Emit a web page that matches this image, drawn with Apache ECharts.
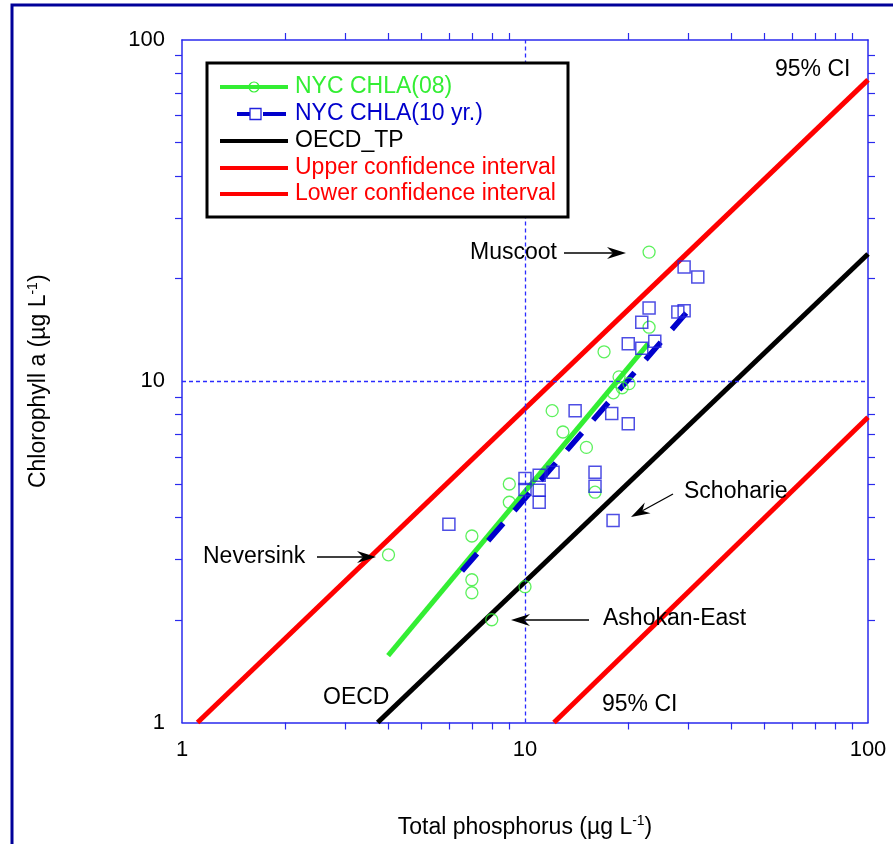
<!DOCTYPE html>
<html>
<head>
<meta charset="utf-8">
<script src="https://cdn.jsdelivr.net/npm/echarts@6/dist/echarts.min.js"></script>
<style>
html,body{margin:0;padding:0;background:#fff;}
#chart{width:893px;height:844px;}
</style>
</head>
<body>
<div id="chart"></div>
<script>
// ---------- data ----------
const xTickLabels = [1, 10, 100];
const yTickLabels = [1, 10, 100];
const minorTicks = [2, 3, 4, 5, 6, 7, 8, 9, 20, 30, 40, 50, 60, 70, 80, 90];
const gridTP = [10];
const gridChl = [10];

// NYC CHLA(08) points (TP, Chl a)
const chl08TP  = [23, 23, 17, 18.8, 20.1, 19.2, 18.1, 12, 12.9, 15.1, 9, 9, 16, 7, 4, 7, 7, 10, 8];
const chl08Chl = [23.9, 14.4, 12.2, 10.3, 9.84, 9.57, 9.25, 8.2, 7.1, 6.4, 5.0, 4.42, 4.73, 3.52, 3.1, 2.62, 2.4, 2.5, 2.0];

// NYC CHLA(10 yr.) points
const chl10TP  = [29.1, 31.9, 23, 21.9, 27.9, 29.1, 23.9, 20, 21.9, 14, 17.9, 20, 10, 10, 11, 11, 11, 12.07, 16, 16, 18.06, 6];
const chl10Chl = [21.6, 20.2, 16.4, 14.9, 15.96, 16.1, 13.1, 12.87, 12.5, 8.2, 8.04, 7.51, 5.19, 4.82, 5.3, 4.79, 4.42, 5.41, 5.41, 4.92, 3.91, 3.81];

// regression / reference lines (end points)
const fit08TP = [3.99, 22.84], fit08Chl = [1.57, 12.87];
const fit10TP = [6.55, 29.5],  fit10Chl = [2.78, 15.85];
const oecdTP  = [3.72, 100],   oecdChl  = [1, 23.6];
const upperTP = [1.11, 100],   upperChl = [1, 76.4];
const lowerTP = [12.15, 100],  lowerChl = [1, 7.84];

// ---------- helpers ----------
const zip = (a, b) => a.map((v, i) => [v, b[i]]);
const FONT = '"Liberation Sans", Arial, sans-serif';
const GREEN = '#33ee33', BLUE = '#0000cc', RED = '#ff0000';
const AXIS_BLUE = '#2a2aee';

function arrow(x1, y1, x2, y2) {
  const a = Math.atan2(y2 - y1, x2 - x1), c = Math.cos(a), s = Math.sin(a);
  const L = 19, W = 6, N = 6;
  const bx = x2 - L * c, by = y2 - L * s;
  const nx = x2 - (L - N) * c, ny = y2 - (L - N) * s;
  return [
    {type: 'line', z: 50, shape: {x1, y1, x2: nx, y2: ny}, style: {stroke: '#000', lineWidth: 1.3}},
    {type: 'polygon', z: 50, shape: {points: [[x2, y2], [bx - W * s, by + W * c], [nx, ny], [bx + W * s, by - W * c]]},
      style: {fill: '#000'}}
  ];
}
function txt(text, x, y, color) {
  return {type: 'text', z: 60, style: {text, x, y, fill: color || '#000', fontSize: 23, fontFamily: FONT,
    align: 'left', verticalAlign: 'middle'}};
}

function logAxis(pos, showLabel, isX) {
  return {
    type: 'log', logBase: 10, min: 1, max: 100, position: pos,
    axisLine: {show: true, lineStyle: {color: AXIS_BLUE, width: 1.5}},
    axisTick: {show: true, inside: false, length: 7, customValues: minorTicks,
      lineStyle: {color: AXIS_BLUE, width: 1.2}},
    axisLabel: showLabel ? {show: true, color: '#000', fontSize: 22, fontFamily: FONT,
      margin: isX ? 16 : 17, customValues: isX ? xTickLabels : yTickLabels,
      formatter: v => String(Math.round(v))} : {show: false},
    splitLine: {show: false},
    minorTick: {show: false}
  };
}

const titleStyle = {rich: {t: {fontSize: 23, fontFamily: FONT, color: '#000', lineHeight: 26},
  s: {fontSize: 14, fontFamily: FONT, color: '#000', verticalAlign: 'top', lineHeight: 26}}};

const xMain = logAxis('bottom', true, true);
xMain.name = '{t|Total phosphorus (µg L}{s|-1}{t|)}';
xMain.nameLocation = 'middle';
xMain.nameGap = 92;
xMain.nameTextStyle = titleStyle;
const xTop = logAxis('top', false, true);

const yMain = logAxis('left', true, false);
yMain.name = '{t|Chlorophyll a (µg L}{s|-1}{t|)}';
yMain.nameLocation = 'middle';
yMain.nameRotate = 90;
yMain.nameGap = 130;
yMain.nameTextStyle = titleStyle;
const yRight = logAxis('right', false, false);

const lineSeries = (name, tp, chl, color, width, dash) => ({
  type: 'line', name, data: zip(tp, chl), symbol: 'none', z: 3, silent: true,
  lineStyle: {color, width, type: dash || 'solid', cap: 'butt'}
});

// ---------- graphics: legend, annotations, frame ----------
const rows = [87, 114, 141, 168, 194];
const legend = [
  {type: 'rect', z: 40, shape: {x: 207, y: 63, width: 361, height: 154}, style: {fill: '#fff', stroke: '#000', lineWidth: 3}},
  {type: 'line', z: 41, shape: {x1: 220, y1: rows[0], x2: 288, y2: rows[0]}, style: {stroke: GREEN, lineWidth: 4}},
  {type: 'circle', z: 42, shape: {cx: 254, cy: rows[0], r: 5}, style: {fill: 'none', stroke: GREEN, lineWidth: 1.2}},
  {type: 'line', z: 41, shape: {x1: 237, y1: rows[1], x2: 250, y2: rows[1]}, style: {stroke: BLUE, lineWidth: 4}},
  {type: 'rect', z: 42, shape: {x: 250, y: rows[1] - 5.5, width: 11, height: 11}, style: {fill: 'none', stroke: '#2222dd', lineWidth: 1.3}},
  {type: 'line', z: 41, shape: {x1: 263, y1: rows[1], x2: 286, y2: rows[1]}, style: {stroke: BLUE, lineWidth: 4}},
  {type: 'line', z: 41, shape: {x1: 220, y1: rows[2], x2: 288, y2: rows[2]}, style: {stroke: '#000', lineWidth: 4}},
  {type: 'line', z: 41, shape: {x1: 220, y1: rows[3], x2: 288, y2: rows[3]}, style: {stroke: RED, lineWidth: 4}},
  {type: 'line', z: 41, shape: {x1: 220, y1: rows[4], x2: 288, y2: rows[4]}, style: {stroke: RED, lineWidth: 4}},
  txt('NYC CHLA(08)', 295, rows[0], GREEN),
  txt('NYC CHLA(10 yr.)', 295, rows[1], BLUE),
  txt('OECD_TP', 295, rows[2], '#000'),
  txt('Upper confidence interval', 295, rows[3], RED),
  txt('Lower confidence interval', 295, rows[4], RED)
];
const annotations = [].concat(
  txt('Muscoot', 470, 253), arrow(564, 253, 626, 253),
  txt('Neversink', 203, 557), arrow(317, 557, 376, 557),
  txt('Schoharie', 684, 492), arrow(673, 494, 631, 517),
  txt('Ashokan-East', 603, 619), arrow(589, 620, 511, 620),
  txt('OECD', 323, 698),
  txt('95% CI', 775, 70),
  txt('95% CI', 602, 705)
);
const frame = {type: 'rect', z: 100, shape: {x: 12, y: 5, width: 1000, height: 1000},
  style: {fill: 'none', stroke: '#000099', lineWidth: 3}};

const gridLines = {
  type: 'line', name: 'grid', data: [], symbol: 'none', z: 1, silent: true,
  color: '#2b2bff',
  markLine: {
    silent: true, symbol: 'none', animation: false, label: {show: false},
    lineStyle: {color: '#2b2bff', width: 1.3, type: [4, 3], opacity: 1},
    emphasis: {disabled: true},
    data: gridTP.map(v => ({xAxis: v, lineStyle: {color: '#2b2bff'}}))
      .concat(gridChl.map(v => ({yAxis: v, lineStyle: {color: '#2b2bff'}})))
  }
};

const option = {
  animation: false,
  backgroundColor: '#fff',
  textStyle: {fontFamily: FONT},
  grid: {left: 182, top: 40, width: 686, height: 685, containLabel: false},
  xAxis: [xMain, xTop],
  yAxis: [yMain, yRight],
  series: [
    gridLines,
    lineSeries('Upper confidence interval', upperTP, upperChl, RED, 5),
    lineSeries('Lower confidence interval', lowerTP, lowerChl, RED, 5),
    lineSeries('OECD_TP', oecdTP, oecdChl, '#000', 5),
    lineSeries('NYC CHLA(08) fit', fit08TP, fit08Chl, GREEN, 5),
    lineSeries('NYC CHLA(10 yr.) fit', fit10TP, fit10Chl, BLUE, 5.5, [23, 17]),
    {type: 'scatter', name: 'NYC CHLA(08)', data: zip(chl08TP, chl08Chl), symbol: 'circle', symbolSize: 12, z: 5,
      itemStyle: {color: 'rgba(0,0,0,0)', borderColor: GREEN, borderWidth: 1.3}},
    {type: 'scatter', name: 'NYC CHLA(10 yr.)', data: zip(chl10TP, chl10Chl), symbol: 'rect', symbolSize: 12, z: 5,
      itemStyle: {color: 'rgba(0,0,0,0)', borderColor: '#2222dd', borderWidth: 1.5}}
  ],
  graphic: [].concat(legend, annotations, [frame])
};

const chart = echarts.init(document.getElementById('chart'), null, {renderer: 'canvas'});
chart.setOption(option);
</script>
</body>
</html>
